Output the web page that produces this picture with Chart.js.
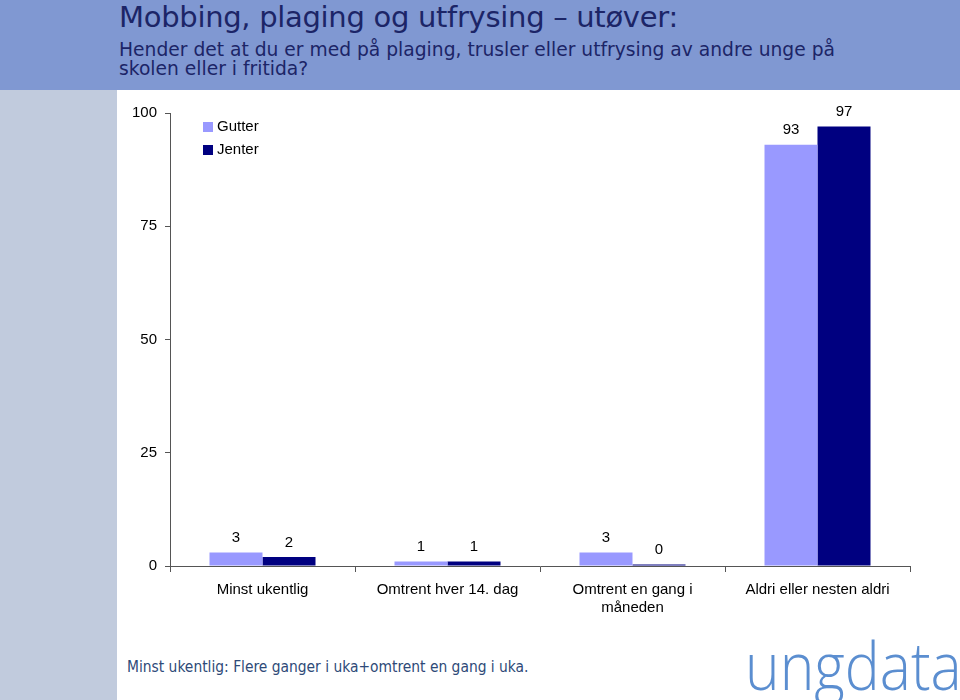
<!DOCTYPE html>
<html>
<head>
<meta charset="utf-8">
<script src="https://cdn.jsdelivr.net/npm/chart.js@4.4.1/dist/chart.umd.min.js"></script>
<style>
    html, body { margin: 0; padding: 0; background: #fff; }
    body { width: 960px; height: 700px; position: relative; overflow: hidden; font-family: 'DejaVu Sans', Verdana, sans-serif; }
    #header { position: absolute; left: 0; top: 0; width: 960px; height: 90px; background: #8098d2; }
    #sidebar { position: absolute; left: 0; top: 90px; width: 117px; height: 610px; background: #c1cbdd; }
    #title { position: absolute; left: 119px; top: 0px; font-size: 29px; color: #1c2567; white-space: nowrap; letter-spacing: -0.3px; }
    #subtitle { position: absolute; left: 119px; top: 40px; font-size: 18.7px; line-height: 19px; color: #1c2567; white-space: nowrap; }
    #note { position: absolute; left: 127px; top: 658px; font-family: 'DejaVu Sans Condensed', 'DejaVu Sans', sans-serif; font-size: 15.4px; color: #2e4a78; white-space: nowrap; }
    #logo { position: absolute; left: 745px; top: 631px; font-family: 'Open Sans', sans-serif; font-weight: 300; font-size: 66px; line-height: 1; color: #5b8ed0; white-space: nowrap; transform: scaleX(0.89); transform-origin: left top; }
    #wrap { position: absolute; left: 117px; top: 90px; width: 843px; height: 560px; }
</style>
</head>
<body>
<div id="header"></div>
<div id="sidebar"></div>
<div id="title">Mobbing, plaging og utfrysing – utøver:</div>
<div id="subtitle">Hender det at du er med på plaging, trusler eller utfrysing av andre unge på<br>skolen eller i fritida?</div>
<div id="wrap"><canvas id="chart" width="843" height="560"></canvas></div>
<div id="note">Minst ukentlig: Flere ganger i uka+omtrent en gang i uka.</div>
<div id="logo">ungdata</div>

<script>
const categories = [
    'Minst ukentlig',
    'Omtrent hver 14. dag',
    ['Omtrent en gang i', 'måneden'],
    'Aldri eller nesten aldri'
];
const gutter = [3, 1, 3, 93];
const jenter = [2, 1, 0, 97];
const yTicks = [0, 25, 50, 75, 100];

const colors = {
    gutter: '#9999ff',
    jenter: '#000080',
    axis: '#555555',
    text: '#000000'
};

// verdier over søylene
const valueLabels = {
    id: 'valueLabels',
    afterDatasetsDraw(chart) {
        const ctx = chart.ctx;
        ctx.save();
        ctx.font = '15px "Liberation Sans", Arial, sans-serif';
        ctx.fillStyle = colors.text;
        ctx.textAlign = 'center';
        ctx.textBaseline = 'bottom';
        chart.data.datasets.forEach((ds, i) => {
            chart.getDatasetMeta(i).data.forEach((bar, j) => {
                ctx.fillText(String(ds.data[j]), bar.x, bar.y - 7);
            });
        });
        ctx.restore();
    }
};

// forklaring oppe til venstre i plottet
const boxLegend = {
    id: 'boxLegend',
    afterDraw(chart) {
        const ctx = chart.ctx;
        const x = chart.chartArea.left + 33;
        let y = chart.chartArea.top + 14;
        ctx.save();
        ctx.font = '15px "Liberation Sans", Arial, sans-serif';
        ctx.textBaseline = 'middle';
        chart.data.datasets.forEach(ds => {
            ctx.fillStyle = ds.backgroundColor;
            ctx.fillRect(x, y - 5, 10, 10);
            ctx.fillStyle = colors.text;
            ctx.fillText(ds.label, x + 14, y);
            y += 23;
        });
        ctx.restore();
    }
};

new Chart(document.getElementById('chart'), {
    type: 'bar',
    data: {
        labels: categories,
        datasets: [
            { label: 'Gutter', data: gutter, backgroundColor: colors.gutter },
            { label: 'Jenter', data: jenter, backgroundColor: colors.jenter }
        ]
    },
    options: {
        responsive: false,
        animation: false,
        layout: { padding: { top: 23, right: 50, left: 0, bottom: 0 } },
        datasets: {
            bar: { categoryPercentage: 0.573, barPercentage: 1.0, minBarLength: 1.5 }
        },
        plugins: {
            legend: { display: false },
            tooltip: { enabled: false }
        },
        scales: {
            x: {
                grid: {
                    offset: true,
                    drawOnChartArea: false,
                    tickLength: 6,
                    tickColor: colors.axis
                },
                border: { color: colors.axis, width: 1 },
                ticks: {
                    color: colors.text,
                    padding: 9,
                    maxRotation: 0,
                    autoSkip: false,
                    font: { family: '"Liberation Sans", Arial, sans-serif', size: 15 }
                },
                afterFit(scale) { scale.height = 84; }
            },
            y: {
                min: 0,
                max: 100,
                afterBuildTicks(scale) { scale.ticks = yTicks.map(v => ({ value: v })); },
                grid: {
                    drawOnChartArea: false,
                    tickLength: 5,
                    tickColor: colors.axis
                },
                border: { color: colors.axis, width: 1 },
                ticks: {
                    color: colors.text,
                    padding: 8,
                    font: { family: '"Liberation Sans", Arial, sans-serif', size: 15 }
                },
                afterFit(scale) { scale.width = 53; }
            }
        }
    },
    plugins: [valueLabels, boxLegend]
});
</script>
</body>
</html>
